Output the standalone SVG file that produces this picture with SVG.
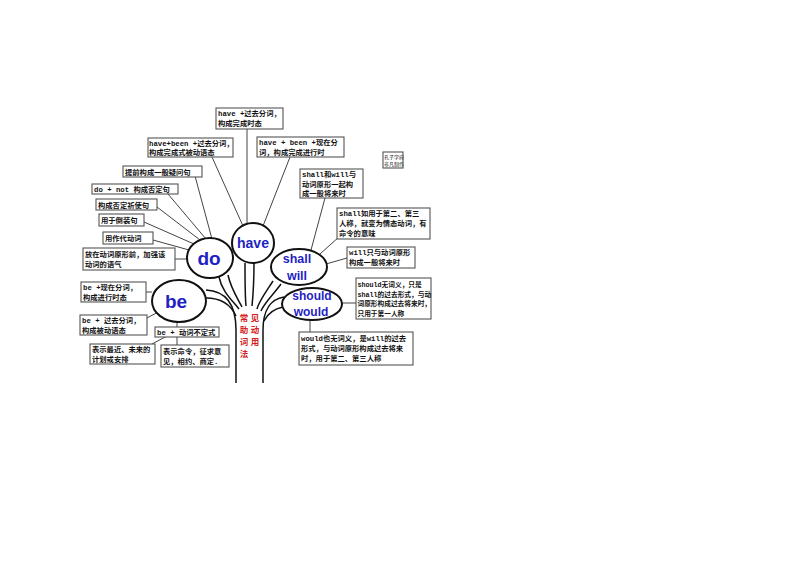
<svg xmlns="http://www.w3.org/2000/svg" width="800" height="566" viewBox="0 0 800 566">
<style>
.bx{fill:#fff;stroke:#555;stroke-width:1.1}
.t{font-family:"Liberation Mono","Noto Sans CJK SC",monospace;font-size:7.3px;fill:#111;font-weight:bold}
.sm{font-size:6.7px}
.s{font-family:"Noto Sans CJK SC",sans-serif;font-size:5px;fill:#222}
.c{fill:#fff;stroke:#111;stroke-width:2}
.w{font-family:"Liberation Sans","DejaVu Sans",sans-serif;font-weight:bold;fill:#1f1fc4;text-anchor:middle}
.ln{stroke:#444;stroke-width:1;fill:none}
.tr{stroke:#111;stroke-width:1.5;fill:none}
.r{font-family:"Noto Sans CJK SC",sans-serif;font-size:8.5px;fill:#d42020;font-weight:bold;text-anchor:middle}
</style>
<rect width="800" height="566" fill="#fff"/>
<g id="connectors">
<path class="ln" d="M247,129 L247,223"/>
<path class="ln" d="M212,157 L243,226"/>
<path class="ln" d="M290,157 L263,226"/>
<path class="ln" d="M195,176 L212,239"/>
<path class="ln" d="M168,194 L206,239"/>
<path class="ln" d="M157,207 L200,240"/>
<path class="ln" d="M144,222 L194,244"/>
<path class="ln" d="M153,240 L189,250"/>
<path class="ln" d="M175,259 L187,259"/>
<path class="ln" d="M325,198 L311,250"/>
<path class="ln" d="M340,236 L320,254"/>
<path class="ln" d="M347,258 L326,264"/>
<path class="ln" d="M356,303 L342,303"/>
<path class="ln" d="M310,320 L310,332"/>
<path class="ln" d="M146,292 L152,292"/>
<path class="ln" d="M147,318 L160,311"/>
<path class="ln" d="M177,322 L177,327"/>
<path class="ln" d="M167,336 L152,344"/>
<path class="ln" d="M177,336 L177,345"/>
<path class="tr" d="M236,383 L236,330 C236,305 226,291 206,290"/>
<path class="tr" d="M206,298 C221,298 231,305 236,316"/>
<path class="tr" d="M219,277 C222,292 233,301 239,309"/>
<path class="tr" d="M228,275 C231,289 238,299 242,307"/>
<path class="tr" d="M245,263 C245,283 245,296 246,306"/>
<path class="tr" d="M254,263 C254,283 253,296 252,306"/>
<path class="tr" d="M273,281 C266,292 259,301 257,309"/>
<path class="tr" d="M281,284 C273,295 264,303 261,311"/>
<path class="tr" d="M263,383 L263,330 C263,310 271,299 284,297"/>
<path class="tr" d="M283,307 C273,309 267,315 264,321"/>
</g>
<g id="n-have-pp">
<rect class="bx" x="216" y="108" width="67" height="21"/>
<text class="t" x="218" y="116">have +过去分词，</text>
<text class="t" x="218" y="126">构成完成时态</text>
</g>
<g id="n-have-been-pp">
<rect class="bx" x="148" y="138" width="85" height="19"/>
<text class="t" x="149" y="146">have+been +过去分词，</text>
<text class="t" x="149" y="155">构成完成式被动语态</text>
</g>
<g id="n-have-been-ing">
<rect class="bx" x="257" y="137" width="87" height="20"/>
<text class="t" x="259" y="145">have + been +现在分</text>
<text class="t" x="259" y="155">词，构成完成进行时</text>
</g>
<g id="n-question">
<rect class="bx" x="123" y="166" width="79" height="11"/>
<text class="t" x="125" y="174.5">提前构成一般疑问句</text>
</g>
<g id="n-donot">
<rect class="bx" x="92" y="184" width="86" height="10"/>
<text class="t" x="94" y="192">do + not 构成否定句</text>
</g>
<g id="n-neg-imp">
<rect class="bx" x="96" y="199" width="61" height="11"/>
<text class="t" x="98" y="207.5">构成否定祈使句</text>
</g>
<g id="n-inversion">
<rect class="bx" x="99" y="214" width="45" height="12"/>
<text class="t" x="101" y="223">用于倒装句</text>
</g>
<g id="n-proverb">
<rect class="bx" x="103" y="232" width="50" height="12"/>
<text class="t" x="105" y="241">用作代动词</text>
</g>
<g id="n-emph">
<rect class="bx" x="83" y="248" width="92" height="22"/>
<text class="t" x="85" y="257">放在动词原形前，加强该</text>
<text class="t" x="85" y="267">动词的语气</text>
</g>
<g id="n-shallwill">
<rect class="bx" x="300" y="169" width="63" height="29"/>
<text class="t" x="302" y="177">shall和will与</text>
<text class="t" x="302" y="186.5">动词原形一起构</text>
<text class="t" x="302" y="196">成一般将来时</text>
</g>
<g id="n-credit">
<rect class="bx" x="383" y="152" width="20" height="16"/>
<text class="s" x="384" y="159">孔子学府</text>
<text class="s" x="384" y="166">非凡制作</text>
</g>
<g id="n-shall-modal">
<rect class="bx" x="337" y="208" width="93" height="31"/>
<text class="t" x="339" y="216">shall如用于第二、第三</text>
<text class="t" x="339" y="226">人称，就变为情态动词，有</text>
<text class="t" x="339" y="236">命令的意味</text>
</g>
<g id="n-will">
<rect class="bx" x="347" y="247" width="68" height="21"/>
<text class="t" x="349" y="255">will只与动词原形</text>
<text class="t" x="349" y="265">构成一般将来时</text>
</g>
<g id="n-should-box">
<rect class="bx" x="356" y="278" width="75" height="41"/>
<text class="t sm" x="357.5" y="287">should无词义，只是</text>
<text class="t sm" x="357.5" y="296.5">shall的过去形式，与动</text>
<text class="t sm" x="357.5" y="306">词原形构成过去将来时，</text>
<text class="t sm" x="357.5" y="315.5">只用于第一人称</text>
</g>
<g id="n-would">
<rect class="bx" x="299" y="332" width="114" height="33"/>
<text class="t" x="301" y="341">would也无词义，是will的过去</text>
<text class="t" x="301" y="351">形式，与动词原形构成过去将来</text>
<text class="t" x="301" y="361">时，用于第二、第三人称</text>
</g>
<g id="n-be-ing">
<rect class="bx" x="81" y="282" width="65" height="20"/>
<text class="t" x="83" y="290">be +现在分词，</text>
<text class="t" x="83" y="300">构成进行时态</text>
</g>
<g id="n-be-pp">
<rect class="bx" x="80" y="315" width="67" height="20"/>
<text class="t" x="82" y="323">be + 过去分词，</text>
<text class="t" x="82" y="333">构成被动语态</text>
</g>
<g id="n-be-inf">
<rect class="bx" x="155" y="327" width="64" height="10"/>
<text class="t" x="157" y="335">be + 动词不定式</text>
</g>
<g id="n-plan">
<rect class="bx" x="90" y="344" width="65" height="20"/>
<text class="t" x="92" y="352">表示最近、未来的</text>
<text class="t" x="92" y="362">计划或安排</text>
</g>
<g id="n-command">
<rect class="bx" x="161" y="345" width="68" height="22"/>
<text class="t" x="163" y="354">表示命令，征求意</text>
<text class="t" x="163" y="364">见，相约、商定.</text>
</g>
<g id="n-do">
<ellipse class="c" cx="210" cy="258" rx="23" ry="20"/>
<text class="w" x="209" y="265" font-size="19">do</text>
</g>
<g id="n-have">
<ellipse class="c" cx="253" cy="243" rx="21" ry="20"/>
<text class="w" x="253" y="248" font-size="14">have</text>
</g>
<g id="n-shall">
<ellipse class="c" cx="299" cy="267" rx="28" ry="18"/>
<text class="w" x="297" y="263" font-size="12.5">shall</text>
<text class="w" x="297" y="280" font-size="12.5">will</text>
</g>
<g id="n-should">
<ellipse class="c" cx="312" cy="304" rx="30" ry="16"/>
<text class="w" x="312" y="300" font-size="12">should</text>
<text class="w" x="311" y="316" font-size="12">would</text>
</g>
<g id="n-be">
<ellipse class="c" cx="179" cy="301" rx="27" ry="21"/>
<text class="w" x="176" y="308" font-size="19">be</text>
</g>
<g id="n-title">
<text class="r" x="244" y="321">常</text>
<text class="r" x="255" y="321">见</text>
<text class="r" x="244" y="333">助</text>
<text class="r" x="255" y="333">动</text>
<text class="r" x="244" y="345">词</text>
<text class="r" x="255" y="345">用</text>
<text class="r" x="244" y="357">法</text>
</g>
</svg>
